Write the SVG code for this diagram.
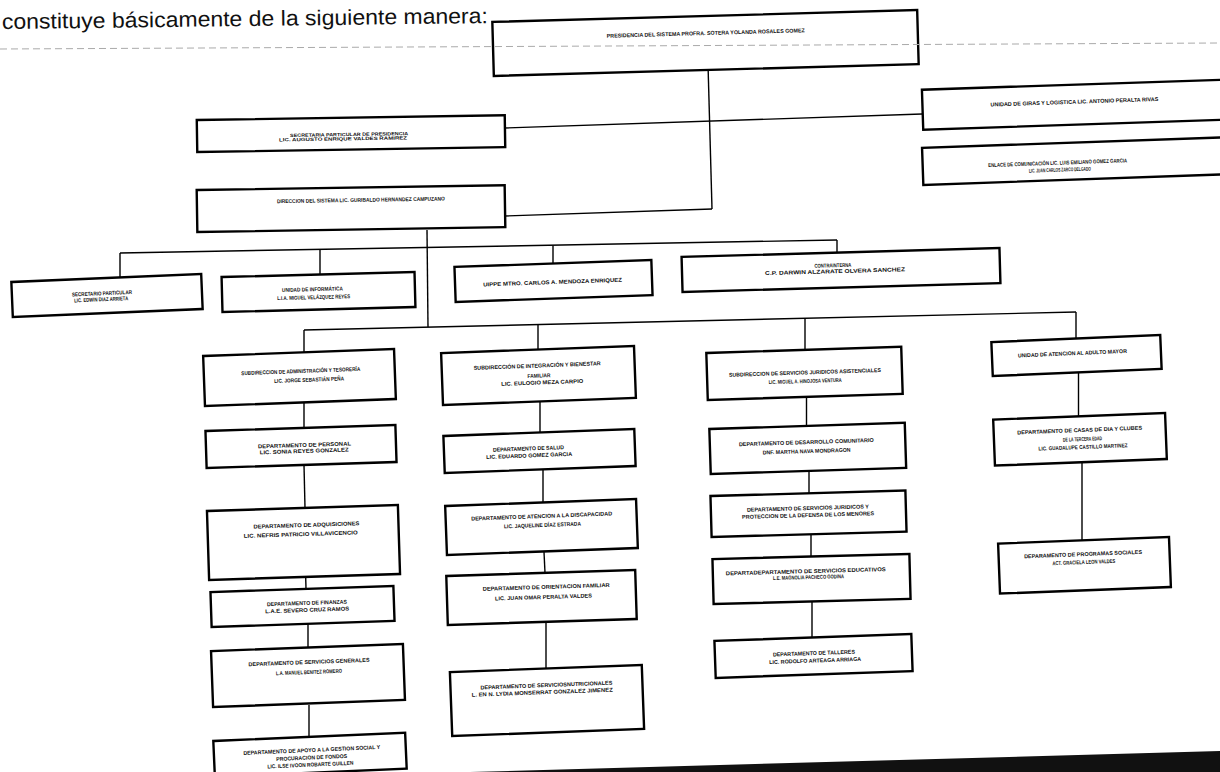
<svg xmlns="http://www.w3.org/2000/svg" width="1220" height="772" viewBox="0 0 1220 772">
<style>
.box{fill:#fff;stroke:#000;stroke-width:2.4}
.t{font-family:"Liberation Sans",Arial,sans-serif;font-weight:bold;font-size:5.5px;text-anchor:middle;fill:#111}
.s{font-size:4.6px}
#connectors line{stroke:#000;stroke-width:1.4;fill:none}
</style>
<rect width="1220" height="772" fill="#fff"/>
<text x="2" y="29" transform="rotate(-0.7 2 29)" font-family="'Liberation Sans',Arial,sans-serif" font-size="21.5" fill="#111" textLength="486" lengthAdjust="spacingAndGlyphs">constituye básicamente de la siguiente manera:</text>
<g id="connectors">
<line x1="708" y1="64" x2="712" y2="209"/>
<line x1="505" y1="128" x2="922" y2="114"/>
<line x1="505" y1="216" x2="712" y2="209"/>
<line x1="427" y1="230" x2="428" y2="327"/>
<line x1="120" y1="253" x2="837" y2="240"/>
<line x1="120" y1="253" x2="120" y2="278"/>
<line x1="320" y1="249.5" x2="320" y2="275"/>
<line x1="553" y1="245.5" x2="553" y2="263"/>
<line x1="837" y1="240" x2="837" y2="253"/>
<line x1="304" y1="330" x2="1076" y2="312"/>
<line x1="304" y1="330" x2="304" y2="352"/>
<line x1="538" y1="324.5" x2="538" y2="349"/>
<line x1="805" y1="318.3" x2="805" y2="350"/>
<line x1="1076" y1="312" x2="1076" y2="338"/>
<line x1="304" y1="402" x2="304" y2="428"/>
<line x1="304" y1="465" x2="305" y2="508"/>
<line x1="305" y1="550" x2="306" y2="589"/>
<line x1="308" y1="624" x2="308" y2="647.5"/>
<line x1="309" y1="705" x2="309" y2="737"/>
<line x1="540" y1="401" x2="540" y2="432.5"/>
<line x1="543" y1="470" x2="543" y2="503"/>
<line x1="544" y1="552" x2="545" y2="573"/>
<line x1="546" y1="622" x2="546" y2="668.5"/>
<line x1="806.5" y1="397" x2="806.5" y2="426"/>
<line x1="809" y1="471.5" x2="809" y2="493.5"/>
<line x1="811" y1="535" x2="811" y2="556.5"/>
<line x1="812" y1="601.5" x2="812" y2="637.5"/>
<line x1="1078.5" y1="373" x2="1078.5" y2="416"/>
<line x1="1082" y1="462.5" x2="1082" y2="540"/>
</g>
<g id="presidencia" transform="translate(705.5 43) rotate(-1.6)">
<rect class="box" x="-212.5" y="-27" width="425" height="54"/>
<text class="t" x="0.5" y="-8" textLength="198" lengthAdjust="spacingAndGlyphs">PRESIDENCIA DEL SISTEMA  PROFRA. SOTERA YOLANDA ROSALES GOMEZ</text>
</g>
<g id="secretaria-presidencia" transform="translate(351 133.6) rotate(-0.9)">
<rect class="box" x="-154" y="-16" width="308" height="32"/>
<text class="t s" x="-2" y="2.4" textLength="118" lengthAdjust="spacingAndGlyphs">SECRETARIA PARTICULAR DE PRESIDENCIA</text>
<text class="t s" x="-8" y="6.7" textLength="128" lengthAdjust="spacingAndGlyphs">LIC. AUGUSTO ENRIQUE VALDES RAMIREZ</text>
</g>
<g id="direccion" transform="translate(351 208.6) rotate(-0.9)">
<rect class="box" x="-154" y="-21" width="308" height="42"/>
<text class="t" x="10" y="-6.6" textLength="168" lengthAdjust="spacingAndGlyphs">DIRECCION DEL SISTEMA LIC. GURIBALDO HERNANDEZ CAMPUZANO</text>
</g>
<g id="giras" transform="translate(1077.5 104.6) rotate(-1.9)">
<rect class="box" x="-155" y="-20" width="310" height="40"/>
<text class="t" x="-3" y="-1" textLength="168" lengthAdjust="spacingAndGlyphs">UNIDAD DE GIRAS Y LOGISTICA  LIC. ANTONIO PERALTA RIVAS</text>
</g>
<g id="enlace" transform="translate(1077.6 161) rotate(-2)">
<rect class="box" x="-155" y="-18.5" width="310" height="37"/>
<text class="t" x="-20" y="3" textLength="139" lengthAdjust="spacingAndGlyphs">ENLACE DE COMUNICACIÓN  LIC. LUIS EMILIANO GOMEZ GARCIA</text>
<text class="t" x="-18" y="10" textLength="62" lengthAdjust="spacingAndGlyphs">LIC. JUAN CARLOS ZARCO DELGADO</text>
</g>
<g id="secretario-particular" transform="translate(107 295.5) rotate(-2.4)">
<rect class="box" x="-95" y="-17.5" width="190" height="35"/>
<text class="t" x="-5" y="-0.5" textLength="60" lengthAdjust="spacingAndGlyphs">SECRETARIO PARTICULAR</text>
<text class="t" x="-6" y="5.5" textLength="54" lengthAdjust="spacingAndGlyphs">LIC. EDWIN DIAZ ARRIETA</text>
</g>
<g id="informatica" transform="translate(318.5 292) rotate(-1.5)">
<rect class="box" x="-96.5" y="-17.5" width="193" height="35"/>
<text class="t" x="-6" y="-1" textLength="61" lengthAdjust="spacingAndGlyphs">UNIDAD DE INFORMÁTICA</text>
<text class="t" x="-5" y="7" textLength="73" lengthAdjust="spacingAndGlyphs">L.I.A. MIGUEL VELÁZQUEZ REYES</text>
</g>
<g id="uippe" transform="translate(553.5 281) rotate(-2)">
<rect class="box" x="-98.5" y="-17.5" width="197" height="35"/>
<text class="t" x="-1" y="3" textLength="139" lengthAdjust="spacingAndGlyphs">UIPPE MTRO. CARLOS A. MENDOZA ENRIQUEZ</text>
</g>
<g id="contraloria" transform="translate(841 270) rotate(-1.6)">
<rect class="box" x="-159" y="-17.5" width="318" height="35"/>
<text class="t" x="-8" y="-3" textLength="37" lengthAdjust="spacingAndGlyphs">CONTRAINTERNA</text>
<text class="t" x="-6" y="3" textLength="140" lengthAdjust="spacingAndGlyphs">C.P. DARWIN ALZARATE OLVERA SANCHEZ</text>
</g>
<g id="sub-administracion" transform="translate(299.5 377.5) rotate(-2.1)">
<rect class="box" x="-95.5" y="-25" width="191" height="50"/>
<text class="t" x="1.5" y="-4.5" textLength="119" lengthAdjust="spacingAndGlyphs">SUBDIRECCION DE ADMINISTRACIÓN Y TESORERÍA</text>
<text class="t" x="9.5" y="4.5" textLength="70" lengthAdjust="spacingAndGlyphs">LIC. JORGE SEBASTIÁN PEÑA</text>
</g>
<g id="sub-integracion" transform="translate(538.5 375.5) rotate(-2.1)">
<rect class="box" x="-96.5" y="-26" width="193" height="52"/>
<text class="t" x="-1" y="-8" textLength="127" lengthAdjust="spacingAndGlyphs">SUBDIRECCIÓN DE INTEGRACIÓN Y BIENESTAR</text>
<text class="t" x="0.5" y="2" textLength="23" lengthAdjust="spacingAndGlyphs">FAMILIAR</text>
<text class="t" x="3.5" y="9" textLength="82" lengthAdjust="spacingAndGlyphs">LIC. EULOGIO MEZA CARPIO</text>
</g>
<g id="sub-servicios" transform="translate(804.5 373.4) rotate(-1.8)">
<rect class="box" x="-97.5" y="-23.5" width="195" height="47"/>
<text class="t" x="0.5" y="1" textLength="152" lengthAdjust="spacingAndGlyphs">SUBDIRECCION DE SERVICIOS JURIDICOS ASISTENCIALES</text>
<text class="t" x="0.5" y="9.6" textLength="73" lengthAdjust="spacingAndGlyphs">LIC. MIGUEL A. HINOJOSA VENTURA</text>
</g>
<g id="adulto-mayor" transform="translate(1076.5 355.5) rotate(-2.4)">
<rect class="box" x="-84.5" y="-17" width="169" height="34"/>
<text class="t" x="-4" y="-0.5" textLength="109" lengthAdjust="spacingAndGlyphs">UNIDAD DE ATENCION AL ADULTO MAYOR</text>
</g>
<g id="dep-personal" transform="translate(301 446.5) rotate(-1.8)">
<rect class="box" x="-95" y="-18.5" width="190" height="37"/>
<text class="t" x="3.5" y="0.5" textLength="93" lengthAdjust="spacingAndGlyphs">DEPARTAMENTO DE PERSONAL</text>
<text class="t" x="3" y="6.5" textLength="89" lengthAdjust="spacingAndGlyphs">LIC. SONIA REYES GONZALEZ</text>
</g>
<g id="dep-adquisiciones" transform="translate(303.5 542.5) rotate(-1.8)">
<rect class="box" x="-95.5" y="-34.5" width="191" height="69"/>
<text class="t" x="3.5" y="-15.5" textLength="106" lengthAdjust="spacingAndGlyphs">DEPARTAMENTO DE ADQUISICIONES</text>
<text class="t" x="-2.5" y="-6.5" textLength="114" lengthAdjust="spacingAndGlyphs">LIC. NEFRIS PATRICIO VILLAVICENCIO</text>
</g>
<g id="dep-finanzas" transform="translate(302.5 606.5) rotate(-1.9)">
<rect class="box" x="-91.5" y="-17.5" width="183" height="35"/>
<text class="t" x="4.5" y="-1.5" textLength="80" lengthAdjust="spacingAndGlyphs">DEPARTAMENTO DE FINANZAS</text>
<text class="t" x="4.5" y="5.5" textLength="84" lengthAdjust="spacingAndGlyphs">L.A.E. SEVERO CRUZ RAMOS</text>
</g>
<g id="dep-generales" transform="translate(308 675.5) rotate(-2.1)">
<rect class="box" x="-96" y="-28" width="192" height="56"/>
<text class="t" x="1.5" y="-11.5" textLength="121" lengthAdjust="spacingAndGlyphs">DEPARTAMENTO DE SERVICIOS GENERALES</text>
<text class="t" x="1" y="-1.5" textLength="66" lengthAdjust="spacingAndGlyphs">L.A. MANUEL BENITEZ ROMERO</text>
</g>
<g id="dep-apoyo" transform="translate(310 754.8) rotate(-2.5)">
<rect class="box" x="-96" y="-18" width="192" height="36"/>
<text class="t" x="2" y="-2.8" textLength="137" lengthAdjust="spacingAndGlyphs">DEPARTAMENTO DE APOYO A LA GESTION SOCIAL Y</text>
<text class="t" x="1.5" y="4.7" textLength="71" lengthAdjust="spacingAndGlyphs">PROCURACION DE FONDOS</text>
<text class="t" x="0" y="11.8" textLength="86" lengthAdjust="spacingAndGlyphs">LIC. ILSE IVOON ROBARTE GUILLEN</text>
</g>
<g id="dep-salud" transform="translate(539.5 451) rotate(-2.1)">
<rect class="box" x="-95.5" y="-18.5" width="191" height="37"/>
<text class="t" x="-11" y="-1" textLength="71" lengthAdjust="spacingAndGlyphs">DEPARTAMENTO DE SALUD</text>
<text class="t" x="-10.5" y="6" textLength="86" lengthAdjust="spacingAndGlyphs">LIC. EDUARDO GOMEZ GARCIA</text>
</g>
<g id="dep-discapacidad" transform="translate(541.5 527) rotate(-2.1)">
<rect class="box" x="-95.5" y="-24.5" width="191" height="49"/>
<text class="t" x="0.5" y="-9" textLength="141" lengthAdjust="spacingAndGlyphs">DEPARTAMENTO DE ATENCION A LA DISCAPACIDAD</text>
<text class="t" x="1" y="0" textLength="77" lengthAdjust="spacingAndGlyphs">LIC. JAQUELINE DÍAZ ESTRADA</text>
</g>
<g id="dep-orientacion" transform="translate(541.5 597.5) rotate(-1.8)">
<rect class="box" x="-94.5" y="-24.5" width="189" height="49"/>
<text class="t" x="5" y="-8.5" textLength="127" lengthAdjust="spacingAndGlyphs">DEPARTAMENTO DE ORIENTACION FAMILIAR</text>
<text class="t" x="2" y="1.5" textLength="97" lengthAdjust="spacingAndGlyphs">LIC. JUAN OMAR PERALTA VALDES</text>
</g>
<g id="dep-nutricionales" transform="translate(547 700.5) rotate(-2.1)">
<rect class="box" x="-96" y="-32" width="192" height="64"/>
<text class="t" x="0" y="-13.5" textLength="132" lengthAdjust="spacingAndGlyphs">DEPARTAMENTO DE SERVICIOSNUTRICIONALES</text>
<text class="t" x="-4.5" y="-6.5" textLength="141" lengthAdjust="spacingAndGlyphs">L. EN N. LYDIA MONSERRAT GONZALEZ JIMENEZ</text>
</g>
<g id="dep-desarrollo" transform="translate(807.8 448.4) rotate(-1.8)">
<rect class="box" x="-97.8" y="-22.5" width="195.5" height="45"/>
<text class="t" x="-1.3" y="-4.4" textLength="135" lengthAdjust="spacingAndGlyphs">DEPARTAMENTO DE DESARROLLO COMUNITARIO</text>
<text class="t" x="-1.3" y="4.6" textLength="88" lengthAdjust="spacingAndGlyphs">DNF. MARTHA NAVA MONDRAGON</text>
</g>
<g id="dep-juridicos" transform="translate(808.5 513.8) rotate(-1.6)">
<rect class="box" x="-97.5" y="-20.5" width="195" height="41"/>
<text class="t" x="-0.5" y="-3.8" textLength="122" lengthAdjust="spacingAndGlyphs">DEPARTAMENTO DE SERVICIOS JURIDICOS Y</text>
<text class="t" x="-0.5" y="3.2" textLength="132" lengthAdjust="spacingAndGlyphs">PROTECCION DE LA DEFENSA DE LOS MENORES</text>
</g>
<g id="dep-educativos" transform="translate(811.5 579) rotate(-1.5)">
<rect class="box" x="-98.5" y="-22.5" width="197" height="45"/>
<text class="t" x="-5.5" y="-6" textLength="160" lengthAdjust="spacingAndGlyphs">DEPARTADEPARTAMENTO DE SERVICIOS EDUCATIVOS</text>
<text class="t" x="-3" y="0" textLength="71" lengthAdjust="spacingAndGlyphs">L.E. MAGNOLIA PACHECO GODINA</text>
</g>
<g id="dep-talleres" transform="translate(813.5 656) rotate(-2)">
<rect class="box" x="-98.5" y="-18.5" width="197" height="37"/>
<text class="t" x="0.5" y="-1" textLength="82" lengthAdjust="spacingAndGlyphs">DEPARTAMENTO DE TALLERES</text>
<text class="t" x="1.5" y="6.5" textLength="92" lengthAdjust="spacingAndGlyphs">LIC. RODOLFO ARTEAGA ARRIAGA</text>
</g>
<g id="dep-casas" transform="translate(1080 439.3) rotate(-2.2)">
<rect class="box" x="-86" y="-23" width="172" height="46"/>
<text class="t" x="0" y="-7.3" textLength="125" lengthAdjust="spacingAndGlyphs">DEPARTAMENTO DE CASAS DE DIA Y CLUBES</text>
<text class="t" x="2.5" y="1.7" textLength="39" lengthAdjust="spacingAndGlyphs">DE LA TERCERA EDAD</text>
<text class="t" x="2.7" y="9.7" textLength="89" lengthAdjust="spacingAndGlyphs">LIC. GUADALUPE CASTILLO MARTINEZ</text>
</g>
<g id="dep-programas" transform="translate(1084.5 565.3) rotate(-2.2)">
<rect class="box" x="-85.5" y="-25" width="171" height="50"/>
<text class="t" x="-1" y="-9.3" textLength="118" lengthAdjust="spacingAndGlyphs">DEPARAMENTO DE PROGRAMAS SOCIALES</text>
<text class="t" x="-0.5" y="-1.3" textLength="63" lengthAdjust="spacingAndGlyphs">ACT. GRACIELA LEON VALDES</text>
</g>
<line x1="0" y1="49" x2="1220" y2="43" stroke="#aaa" stroke-width="1" stroke-dasharray="7 4"/>
<polygon points="470,772 1220,751 1220,772" fill="#111"/>
</svg>
